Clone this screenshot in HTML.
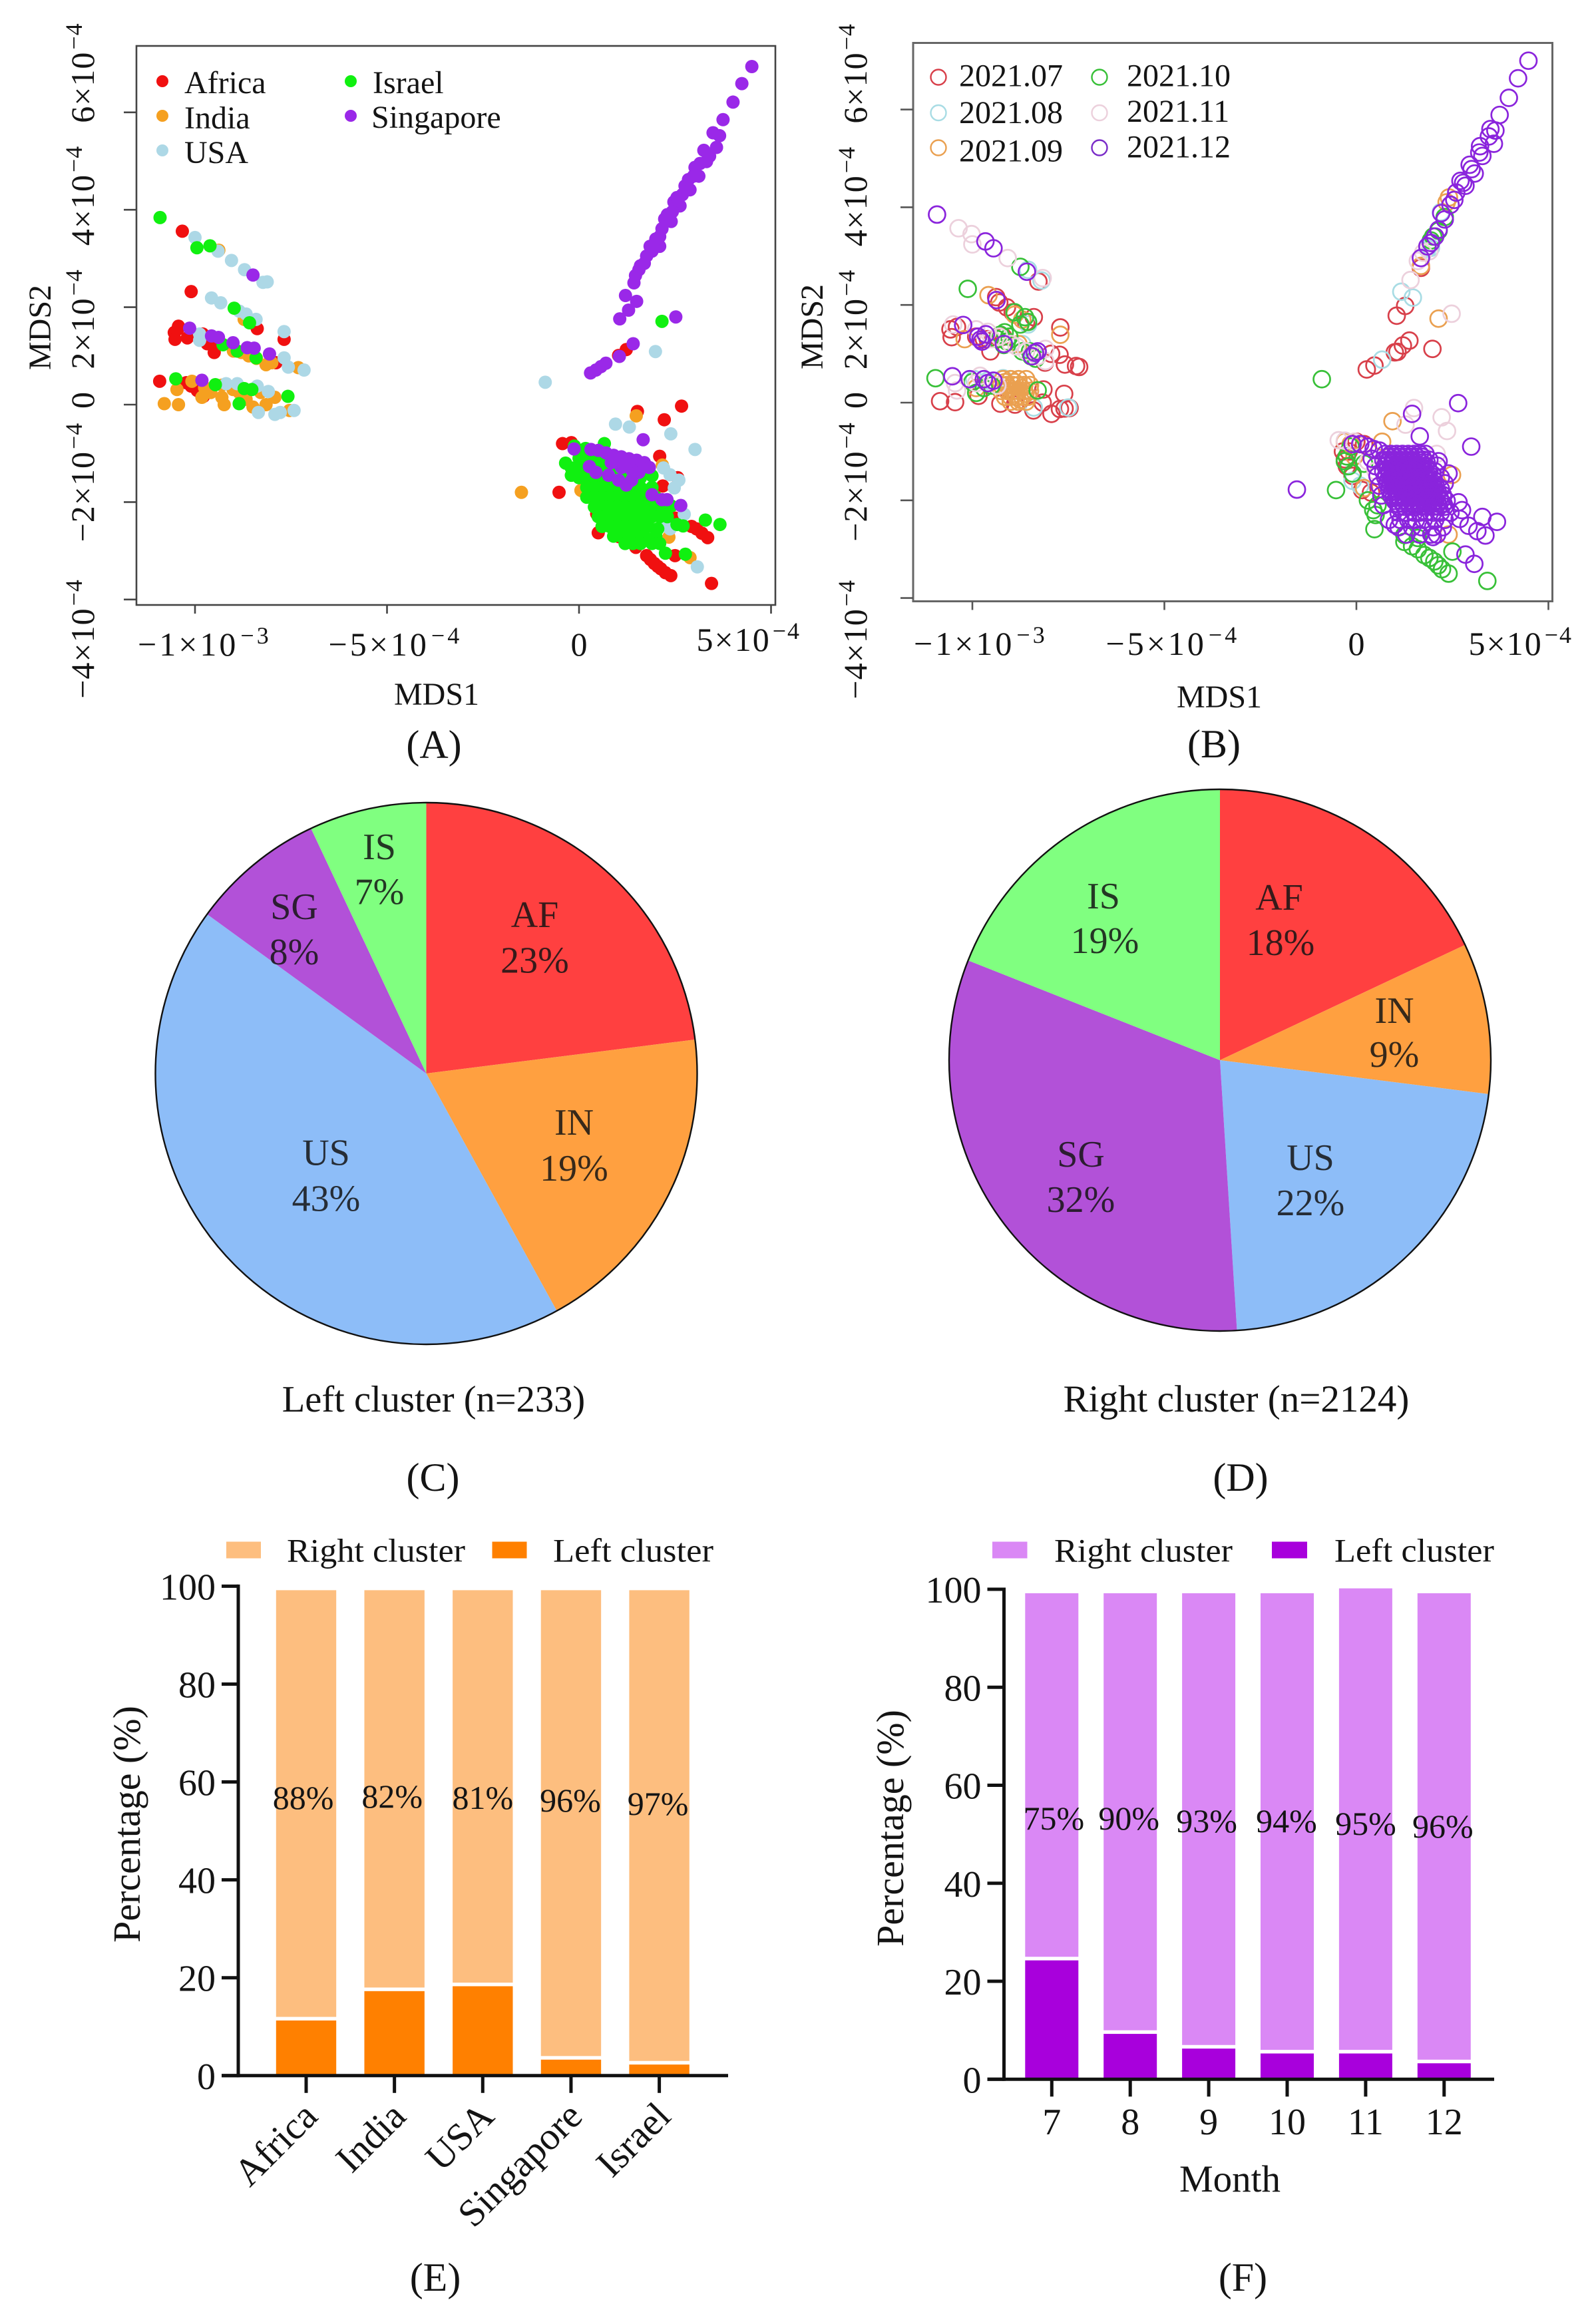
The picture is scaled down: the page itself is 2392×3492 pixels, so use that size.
<!DOCTYPE html>
<html lang="en">
<head>
<meta charset="utf-8">
<title>MDS clusters figure</title>
<style>
html,body{margin:0;padding:0;background:#fff;}
svg{display:block;}
text{font-family:"Liberation Serif",serif;fill:#141414;}
</style>
</head>
<body>
<svg id="figure" xmlns="http://www.w3.org/2000/svg" width="2392" height="3492" viewBox="0 0 2392 3492">
<rect x="0" y="0" width="2392" height="3492" fill="#ffffff"/>

<!-- Panel A static -->
<g id="panelA">
<rect x="205" y="69" width="960" height="840" fill="none" stroke="#444" stroke-width="2.6"/>
<text x="656" y="1059" font-size="48" text-anchor="middle">MDS1</text>
<text transform="translate(76,492) rotate(-90)" font-size="48" text-anchor="middle">MDS2</text>
<text x="652" y="1139" font-size="60" text-anchor="middle">(A)</text>
<circle cx="244" cy="122" r="9" fill="#f01010"/>
<text x="277" y="140" font-size="48">Africa</text>
<circle cx="244" cy="174" r="9" fill="#f5a020"/>
<text x="277" y="193" font-size="48">India</text>
<circle cx="244" cy="226" r="9" fill="#add8e6"/>
<text x="277" y="245" font-size="48">USA</text>
<circle cx="527" cy="122" r="9" fill="#10f010"/>
<text x="560" y="140" font-size="48">Israel</text>
<circle cx="527" cy="174" r="9" fill="#9a28e8"/>
<text x="558" y="192" font-size="48">Singapore</text>
</g>

<!-- Panel B static -->
<g id="panelB">
<rect x="1372" y="64.5" width="960.5" height="839" fill="none" stroke="#666" stroke-width="3"/>
<text x="1832" y="1063" font-size="48" text-anchor="middle">MDS1</text>
<text transform="translate(1236,491) rotate(-90)" font-size="48" text-anchor="middle">MDS2</text>
<text x="1824" y="1138" font-size="60" text-anchor="middle">(B)</text>
<circle cx="1410" cy="116" r="11.5" fill="none" stroke="#d8404a" stroke-width="2.4"/>
<text x="1441" y="129.5" font-size="48">2021.07</text>
<circle cx="1410" cy="169.5" r="11.5" fill="none" stroke="#a8dce4" stroke-width="2.4"/>
<text x="1441" y="185" font-size="48">2021.08</text>
<circle cx="1410" cy="222" r="11.5" fill="none" stroke="#eaa050" stroke-width="2.4"/>
<text x="1441" y="242.5" font-size="48">2021.09</text>
<circle cx="1652" cy="116" r="11.5" fill="none" stroke="#38c038" stroke-width="2.4"/>
<text x="1693" y="129.5" font-size="48">2021.10</text>
<circle cx="1652" cy="169.5" r="11.5" fill="none" stroke="#ecd0dc" stroke-width="2.4"/>
<text x="1693" y="183" font-size="48">2021.11</text>
<circle cx="1652" cy="222" r="11.5" fill="none" stroke="#7a2cc8" stroke-width="2.4"/>
<text x="1693" y="236.5" font-size="48">2021.12</text>
</g>

<!-- Panel C / D static -->
<g id="panelC">
<text x="651.5" y="2121" font-size="56.5" text-anchor="middle">Left cluster (n=233)</text>
<text x="650.5" y="2240" font-size="60" text-anchor="middle">(C)</text>
</g>
<g id="panelD">
<text x="1857.5" y="2121" font-size="57" text-anchor="middle">Right cluster (n=2124)</text>
<text x="1864" y="2240" font-size="60" text-anchor="middle">(D)</text>
</g>

<!-- Panel E static -->
<g id="panelE">
<rect x="340" y="2316.5" width="52" height="25" fill="#fdbe7f"/>
<text x="431" y="2346.5" font-size="50" textLength="268" lengthAdjust="spacingAndGlyphs">Right cluster</text>
<rect x="739.5" y="2316.5" width="52" height="25" fill="#ff8000"/>
<text x="831" y="2346.5" font-size="50" textLength="241" lengthAdjust="spacingAndGlyphs">Left cluster</text>
<text transform="translate(210,2741) rotate(-90)" font-size="58" text-anchor="middle">Percentage (%)</text>
<text x="654" y="3442" font-size="60" text-anchor="middle">(E)</text>
</g>

<!-- Panel F static -->
<g id="panelF">
<rect x="1491" y="2316.5" width="52.5" height="25" fill="#da88f5"/>
<text x="1584" y="2346.5" font-size="50" textLength="268" lengthAdjust="spacingAndGlyphs">Right cluster</text>
<rect x="1911" y="2316.5" width="53" height="25" fill="#a800dc"/>
<text x="2005" y="2346.5" font-size="50" textLength="240" lengthAdjust="spacingAndGlyphs">Left cluster</text>
<text transform="translate(1357,2747) rotate(-90)" font-size="58" text-anchor="middle">Percentage (%)</text>
<text x="1848" y="3293" font-size="57" text-anchor="middle">Month</text>
<text x="1867.5" y="3442" font-size="60" text-anchor="middle">(F)</text>
</g>
</svg>

<script>
// ---------- Chart data (MDS coordinates are in units of 1e-4) ----------
const mdsXTicks = [-10, -5, 0, 5];
const mdsYTicks = [-4, -2, 0, 2, 4, 6];
const mdsXLabels = [['−1×10','−3'],['−5×10','−4'],['0',''],['5×10','−4']];
const mdsYLabels = [['−4×10','−4'],['−2×10','−4'],['0',''],['2×10','−4'],['4×10','−4'],['6×10','−4']];

const africaPoints = [[-10.33,3.56],[-10.1,2.32],[-10.43,1.61],[-10.54,1.48],[-10.52,1.34],[-10.45,1.55],[-10.2,1.37],[-9.68,1.25],[-9.8,1.45],[-9.5,1.07],[-9.55,1.3],[-8.38,1.56],[-7.68,1.34],[-7.89,.86],[-10.92,.48],[-10.23,.45],[-9.94,.29],[-10.1,.38],[-9.78,.17],[-.43,-.8],[-.2,-.78],[-.52,-1.8],[1.52,-.14],[2.67,-.03],[2.22,-.31],[2.1,-1.06],[2.57,-1.5],[2.18,-1.67],[2.51,-2.33],[.46,-2.24],[.5,-2.63],[1.04,-2.71],[1.48,-2.93],[1.76,-3.1],[1.86,-3.18],[1.96,-3.26],[2.05,-3.32],[2.13,-3.37],[2.25,-3.45],[2.39,-3.51],[2.5,-3.1],[3.45,-3.67],[2.93,-2.5],[3.06,-2.55],[3.2,-2.64],[3.35,-2.73],[1.23,1.13],[1.03,1.01]];
const indiaPoints = [[-10.8,.02],[-10.43,0],[-10.47,.31],[-10.08,.48],[-9.82,.15],[-9.59,.25],[-9.75,.35],[-9.3,.15],[-9.24,0],[-9.3,.4],[-9.01,.31],[-8.85,.25],[-8.67,.11],[-8.49,-.05],[-8.29,.25],[-8.15,0],[-7.92,.15],[-7.54,-.12],[-9.38,3.17],[-8.72,1.75],[-8.79,1.07],[-9,1.1],[-8.6,1],[-8.4,.95],[-8.15,.82],[-8,.86],[-7.31,.76],[-1.5,-1.8],[.05,-1.76],[1.49,-.23],[2.17,-1.24],[2.34,-2.72],[2.89,-3.14],[.3,-1]];
const usaPoints = [[-10,3.43],[-9.4,3.15],[-9.05,2.96],[-8.71,2.77],[-8.23,2.51],[-8.12,2.52],[-9.57,2.19],[-9.33,2.09],[-8.85,1.92],[-8.67,1.86],[-8.41,1.75],[-7.68,1.5],[-9.88,1.45],[-9.88,1.32],[-7.68,.96],[-7.57,.77],[-7.16,.71],[-9.19,.43],[-8.9,.43],[-8.38,.38],[-8.09,.27],[-8.35,-.16],[-7.92,-.2],[-7.78,-.16],[-7.42,-.12],[-.88,.46],[1.99,1.09],[.95,-.4],[1.31,-.46],[2.39,-.6],[3.02,-.92],[3.08,-3.33],[2.37,-1.44],[2.48,-1.71],[2.74,-2.25],[2.37,-2.55],[2.2,-1.3],[2.6,-1.55],[2.2,-2.4]];
const israelPoints = [[-10.91,3.84],[-9.95,3.22],[-9.61,3.26],[-8.98,1.98],[-8.58,1.68],[-9.27,1.23],[-8.41,.96],[-8.9,1.1],[-10.5,.53],[-9.47,.41],[-8.85,.02],[-8.72,.33],[-8.52,.31],[-7.58,.17],[2.16,1.71],
[.66,-.8],[-.12,-.85],[.17,-.9],[3.29,-2.37],[3.67,-2.46],[2.77,-3.07],[2.25,-3.05],[2.71,-2.49],[2.55,-2.46],
[-.35,-1.2],[-.2,-1.45],[0,-1.1],[.2,-1.1],[.4,-1.1],[.6,-1.05],[.8,-1.1],[1,-1.15],
[-.2,-1.3],[0,-1.3],[.2,-1.3],[.4,-1.3],[.6,-1.3],[.8,-1.3],[1,-1.3],[1.4,-1.3],[1.7,-1.3],
[0,-1.5],[.2,-1.5],[.4,-1.5],[.6,-1.5],[.8,-1.5],[1,-1.5],[1.2,-1.5],[1.4,-1.5],[1.6,-1.5],[1.9,-1.46],
[.2,-1.7],[.4,-1.7],[.6,-1.7],[.8,-1.7],[1,-1.7],[1.2,-1.7],[1.4,-1.7],[1.6,-1.7],[1.9,-1.7],
[.2,-1.9],[.4,-1.9],[.6,-1.9],[.8,-1.9],[1,-1.9],[1.2,-1.9],[1.4,-1.9],[1.6,-1.9],[1.8,-1.9],[2,-1.9],
[.4,-2.1],[.6,-2.1],[.8,-2.1],[1,-2.1],[1.2,-2.1],[1.4,-2.1],[1.6,-2.1],[1.8,-2.1],[2,-2.1],[2.2,-2.1],[2.4,-2.08],
[.5,-2.3],[.7,-2.3],[.9,-2.3],[1.1,-2.3],[1.3,-2.3],[1.5,-2.3],[1.7,-2.3],[1.9,-2.3],[2.1,-2.3],[2.3,-2.3],
[.6,-2.5],[.8,-2.5],[1,-2.5],[1.2,-2.5],[1.4,-2.5],[1.6,-2.5],[1.8,-2.5],[2.05,-2.55],
[.9,-2.7],[1.1,-2.7],[1.3,-2.7],[1.5,-2.7],[1.7,-2.7],[2,-2.7],
[1.2,-2.85],[1.4,-2.85],[1.6,-2.85],[1.9,-2.85],[2.1,-2.85]];
const singaporePoints = [[4.5,6.94],[4.24,6.59],[4.01,6.21],[3.75,5.85],[3.49,5.58],[3.66,5.52],[3.58,5.28],[3.25,5.22],[3.32,4.99],[3.02,4.87],[3.12,4.69],[2.98,4.69],[2.76,4.49],[2.89,4.41],[2.69,4.31],[2.47,4.16],[2.63,4.08],[2.43,3.96],[2.23,3.81],[2.4,3.76],[2.16,3.61],[2.1,3.45],[1.96,3.3],[2.1,3.25],[1.9,3.15],[1.76,3.05],[1.7,2.9],[1.56,2.77],[1.47,2.65],[1.43,2.5],[1.21,2.24],[1.5,2.12],[1.29,1.94],[1.06,1.76],[2.52,1.8],[1.41,1.25],[1.05,.99],[.7,.85],[.57,.78],[.44,.71],[.3,.65],
[3.4,5.1],[3.15,4.95],[2.85,4.62],[2.55,4.25],[2.3,3.9],[2,3.4],[1.85,3.25],[1.6,2.85],
[-10.14,1.57],[-9.57,1.41],[-9.39,1.38],[-9.01,1.27],[-8.64,1.17],[-8.46,1.16],[-8.06,1.04],[-9.82,.5],[-8.49,2.66],
[-.13,-.91],[.31,-.92],[.5,-.94],[.7,-.99],[.9,-1.04],[1.1,-1.07],[1.3,-1.11],[1.5,-1.14],[1.7,-1.19],[1.83,-1.29],[.84,-1.19],[1.1,-1.29],[1.37,-1.34],[1.56,-1.39],[.27,-1.27],[.44,-1.39],[.77,-1.45],[1.03,-1.55],[1.23,-1.65],[1.37,-1.55],[1.5,-1.4],[1.9,-1.85],[2.16,-1.95],[2.29,-1.95],[2.65,-2.07],[1.67,-.72]];

const month07Points = [[-8.28,2.48],[-10.84,.03],[-10.45,.01],[-7.71,1.54],[-10.57,1.5],[-10.54,1.34],[-9.53,1.05],[-8.4,1.75],[-7.73,.98],[-7.59,.78],[-7.22,.73],[-7.3,.75],[-8.11,.82],[-7.61,.18],[-9.27,-.02],[-8.89,-.04],[-8.41,-.16],[-7.94,-.23],[-7.72,-.13],[-7.47,-.11],[-7.6,-.12],[-8.15,.27],[-8.17,0],[-9.84,.14],[-9.38,2.16],[-9.3,2.05],[-10.4,1.55],[-9.9,1.35],[-9.7,1.3],[-9.6,1.3],[-7.95,1],[.27,.68],[.47,.76],[1,1.03],[1.21,1.17],[1.38,1.27],[1.98,1.1],[1.05,1.78],[1.27,1.98],[1.07,1.04],[1.68,2.76],[-.3,-1.16],[.15,-1.79],[.38,-1.84],[-.25,-1.3],[-.1,-1.5],[0,-.8],[.2,-.85],
[-9.1,1.95],[-8.95,1.85],[-8.6,1.65],[-9.2,1.35],[-.35,-1],[-.2,-1]];
const month08Points = [[-8.55,2.72],[-8.2,2.5],[-8.55,1.6],[-9.95,.48],[-9.6,.45],[-8.7,1.2],[-8.4,1],[-9.2,.5],[-7.5,-.1],[-8.4,-.1],[1.17,2.27],[1.47,2.15],[.67,.88],[1.94,3.17],[-.1,-1.6],[.1,-1.7],[2.2,3.9],[1.85,3.15]];
const month09Points = [[-9.58,2.2],[-7.71,1.39],[-8.9,1.8],[-8.7,1.7],[-10.2,1.3],[-8.8,1.2],[-9.9,.3],
[-9.2,.48],[-9,.48],[-8.8,.48],[-8.6,.48],[-9.25,.36],[-9.1,.36],[-8.95,.36],[-8.8,.36],[-8.65,.36],[-8.5,.36],[-9.25,.24],[-9.1,.24],[-8.95,.24],[-8.8,.24],[-8.65,.24],[-8.5,.24],[-9.15,.12],[-9,.12],[-8.85,.12],[-8.7,.12],[-8.55,.12],[-9,.02],[-8.8,.02],[-8.6,.02],
[-9.15,.42],[-8.9,.42],[-8.72,.3],[-9.05,.3],[-8.9,.18],[-8.62,.18],[-8.75,.06],
[2.14,1.72],[2.41,4.2],[1.68,2.8],[2.35,4.1],[.94,-.38],[.67,-.8],[2.49,-1.48],[-.3,-.8],[.2,-1.75],[2.4,-2.7],[-.15,-.85],[-.05,-1.1]];
const month10Points = [[-8.75,2.78],[-10.12,2.33],[-10.96,.5],[-9.9,.2],[-8.63,1.75],[-8.9,1.85],[-9.27,1.39],[-9.16,1.44],[-9.04,1.35],[-9.18,1.18],[-9.35,1.3],[-8.47,.95],[-8.5,1.05],[-10,.42],[-9.7,.3],[-9.5,.35],[-8.3,.25],[1.94,3.32],[2.14,3.52],[-.9,.48],[3.41,-3.65],[-.53,-1.79],[.47,-2.59],[.44,-2.2],[.55,-2.1],[1.45,-2.94],[1.6,-3],[1.77,-3.12],[1.9,-3.18],[2.03,-3.25],[2.13,-3.33],[2.23,-3.41],[2.4,-3.5],[-.3,-1.2],[-.2,-1.3],[-.1,-1.45],[-.25,-1.1],[1.25,-2.71],[1.6,-2.77],[2.5,-3.05],[.2,-1.25],
[-9.1,1.25],[-8.7,1.05],[-8.35,.9],[-8.75,1.6],[-8.55,1.65],[2,3.4],[2.3,3.8],[-.15,-.9],[.3,-2],[.5,-2.3],[1.25,-2.85]];
const month11Points = [[-10.36,3.57],[-10.02,3.45],[-10,3.24],[-9.08,2.96],[-8.17,2.55],[-10.5,1.6],[-9.9,1.5],[-9.6,1.45],[-8.1,1.1],[-10.45,.4],[-10.4,.25],[-9.8,.55],[2.48,1.82],[1.41,2.51],[1.74,3.07],[1.5,-.11],[2.22,-.3],[2.36,-.58],[2.09,-1.05],[1.28,-.45],[-.46,-.77],[.3,-1.2],[.5,-1.4],
[-9.5,1.3],[-9.3,1.35],[-9,1.2],[-8.85,1.15],[-8.6,1.05],[-8.3,.95],[-8.1,.85],[-9.9,.4],[-9.35,.35],[1.6,2.9],[1.9,3.1],[-.3,-.78],[-.05,-.8]];
const month12Points = [[-10.92,3.85],[-9.66,3.3],[-9.45,3.16],[-8.58,2.68],[-9.37,2.1],[-10.24,1.59],[-9.79,1.29],[-9.18,1.2],[-8.37,1.02],[-10.52,.54],[-10.07,.48],[-9.7,.48],[-9.85,1.35],[-9.75,1.25],[-9.65,1.4],[-8.45,.95],[-8.3,1.05],[-9.6,.4],[-9.45,.45],
[4.48,7],[4.21,6.64],[3.97,6.24],[3.73,5.89],[3.49,5.6],[3.62,5.57],[3.58,5.3],[3.22,5.25],[3.28,5.05],[2.95,4.87],[3.08,4.69],[2.71,4.54],[2.84,4.44],[2.55,4.15],[2.21,3.88],[2.14,3.54],[1.94,3.27],[1.68,2.96],
[3.45,5.45],[3.2,5.12],[3,4.78],[2.78,4.5],[2.6,4.3],[2.45,4.05],[2.3,3.75],[2.05,3.4],[1.85,3.2],
[2.65,-.01],[1.45,-.23],[1.65,-.69],[2.99,-.9],[-1.55,-1.78],[3.28,-2.34],[3.66,-2.44],[2.84,-3.11],[3.07,-3.3],[3.36,-2.72],[3.15,-2.63],[2.92,-2.52],[2.69,-2.38],[2.66,-2.04],[2.75,-2.2],[2.14,-1.2],[2.4,-1.45],[1.99,-2.75],
[-.1,-.85],[.1,-.85],[.3,-.9],[.45,-.95],[.6,-.98],[.4,-1.15],[.5,-1.3],[.55,-1.5],[.6,-1.7],[.65,-1.9],[.7,-2.1],[.85,-2.4],[1,-2.5],
[.75,-1.05],[.9,-1.05],[1.05,-1.05],[1.2,-1.05],[1.35,-1.05],[1.5,-1.05],[1.65,-1.05],[1.8,-1.05],
[.7,-1.17],[.85,-1.17],[1,-1.17],[1.15,-1.17],[1.3,-1.17],[1.45,-1.17],[1.6,-1.17],[1.75,-1.17],[1.9,-1.17],
[.75,-1.29],[.9,-1.29],[1.05,-1.29],[1.2,-1.29],[1.35,-1.29],[1.5,-1.29],[1.65,-1.29],[1.8,-1.29],[2.1,-1.29],
[.7,-1.41],[.85,-1.41],[1,-1.41],[1.15,-1.41],[1.3,-1.41],[1.45,-1.41],[1.6,-1.41],[1.75,-1.41],[1.9,-1.41],[2.05,-1.41],
[.75,-1.53],[.9,-1.53],[1.05,-1.53],[1.2,-1.53],[1.35,-1.53],[1.5,-1.53],[1.65,-1.53],[1.8,-1.53],[2.2,-1.53],
[.8,-1.65],[.95,-1.65],[1.1,-1.65],[1.25,-1.65],[1.4,-1.65],[1.55,-1.65],[1.7,-1.65],[1.85,-1.65],[2,-1.65],[2.3,-1.65],
[.85,-1.77],[1,-1.77],[1.15,-1.77],[1.3,-1.77],[1.45,-1.77],[1.6,-1.77],[1.75,-1.77],[1.9,-1.77],[2.05,-1.77],[2.2,-1.77],
[.9,-1.89],[1.05,-1.89],[1.2,-1.89],[1.35,-1.89],[1.5,-1.89],[1.65,-1.89],[1.8,-1.89],[1.95,-1.89],[2.1,-1.89],[2.25,-1.89],
[1,-2.01],[1.15,-2.01],[1.3,-2.01],[1.45,-2.01],[1.6,-2.01],[1.75,-2.01],[1.9,-2.01],[2.05,-2.01],[2.2,-2.01],[2.35,-2.01],
[1.1,-2.13],[1.25,-2.13],[1.4,-2.13],[1.55,-2.13],[1.7,-2.13],[1.85,-2.13],[2,-2.13],[2.15,-2.13],[2.3,-2.13],
[1.1,-2.25],[1.3,-2.25],[1.5,-2.25],[1.65,-2.25],[1.8,-2.25],[2,-2.25],[2.2,-2.25],[2.45,-2.25],
[1.15,-2.4],[1.35,-2.4],[1.55,-2.4],[1.75,-2.4],[2.05,-2.4],[2.3,-2.4],
[1.1,-2.55],[1.45,-2.55],[1.7,-2.55],[2,-2.55],[2.25,-2.55],
[1.3,-2.7],[1.65,-2.7],[1.95,-2.7],[2.1,-2.7],
[.82,-1.11],[.97,-1.11],[1.12,-1.11],[1.27,-1.11],[1.42,-1.11],[1.57,-1.11],[1.72,-1.11],
[.78,-1.23],[.93,-1.23],[1.08,-1.23],[1.23,-1.23],[1.38,-1.23],[1.53,-1.23],[1.68,-1.23],[1.83,-1.23],
[.82,-1.35],[.97,-1.35],[1.12,-1.35],[1.27,-1.35],[1.42,-1.35],[1.57,-1.35],[1.72,-1.35],[1.87,-1.35],
[.78,-1.47],[.93,-1.47],[1.08,-1.47],[1.23,-1.47],[1.38,-1.47],[1.53,-1.47],[1.68,-1.47],[1.83,-1.47],[1.98,-1.47],
[.82,-1.59],[.97,-1.59],[1.12,-1.59],[1.27,-1.59],[1.42,-1.59],[1.57,-1.59],[1.72,-1.59],[1.87,-1.59],[2.02,-1.59],
[.87,-1.71],[1.02,-1.71],[1.17,-1.71],[1.32,-1.71],[1.47,-1.71],[1.62,-1.71],[1.77,-1.71],[1.92,-1.71],[2.07,-1.71],
[.92,-1.83],[1.07,-1.83],[1.22,-1.83],[1.37,-1.83],[1.52,-1.83],[1.67,-1.83],[1.82,-1.83],[1.97,-1.83],[2.12,-1.83],
[.97,-1.95],[1.12,-1.95],[1.27,-1.95],[1.42,-1.95],[1.57,-1.95],[1.72,-1.95],[1.87,-1.95],[2.02,-1.95],[2.17,-1.95],
[1.07,-2.07],[1.22,-2.07],[1.37,-2.07],[1.52,-2.07],[1.67,-2.07],[1.82,-2.07],[1.97,-2.07],[2.12,-2.07],[2.27,-2.07]];

const pieSliceLabels = ['AF','IN','US','SG','IS'];
const leftClusterShares = [23,19,43,8,7];
const rightClusterShares = [18,9,22,32,19];

const barYTicks = [0,20,40,60,80,100];
const countryCategories = ['Africa','India','USA','Singapore','Israel'];
const countryLeft = [12,18,19,4,3];
const countryRight = [88,82,81,96,97];
const monthCategories = ['7','8','9','10','11','12'];
const monthLeft = [25,10,7,6,6,4];
const monthRight = [75,90,93,94,95,96];

// ---------- Layout and axis functions ----------
const NS = 'http://www.w3.org/2000/svg';
const xA = v => 870 + 57.7 * v;
const yA = v => 608 - 73.2 * v;
const xB = v => 2038 + 57.7 * v;
const yB = v => 605 - 73.4 * v;
const yE = v => 3118.8 - 7.354 * v;
const xE = i => 460 + 132.65 * i;
const yF = v => 3124.3 - 7.363 * v;
const xF = i => 1580.3 + 117.9 * i;

function mk(tag, attrs, parent) {
  const n = document.createElementNS(NS, tag);
  for (const k in attrs) n.setAttribute(k, attrs[k]);
  parent.appendChild(n);
  return n;
}

function sciLabel(parent, tx, ty, rot, parts, size, spacing, anchor, name) {
  const t = mk('text', {transform: 'translate(' + tx + ',' + ty + ') rotate(' + rot + ')', 'font-size': size, 'letter-spacing': spacing, 'text-anchor': anchor}, parent);
  
  
  const base = mk('tspan', {}, t);
  base.textContent = parts[0];
  if (parts[1]) {
    const sup = mk('tspan', {dy: -18, dx: 3, 'font-size': size * 0.72}, t);
    sup.textContent = parts[1];
  }
}

function mdsAxes(g, xf, yf, frameLeft, frameBottom, xOffsets, xBaselines, yOffsets, yBaseX, stroke, key) {
  mdsXTicks.forEach((t, i) => {
    const l = mk('line', {x1: xf(t), x2: xf(t), y1: frameBottom, y2: frameBottom + 13, stroke: stroke, 'stroke-width': 2.6}, g);
    
    
    const centered = !mdsXLabels[i][1];
    const spacing = centered ? 0 : (mdsXLabels[i][0].charAt(0) === '−' ? 4 : 2);
    sciLabel(g, xf(t) + xOffsets[i], xBaselines[i], 0, mdsXLabels[i], 50, spacing, centered ? 'middle' : 'start', 'x-tick-label-' + key);
  });
  mdsYTicks.forEach((t, i) => {
    const l = mk('line', {x1: frameLeft - 19, x2: frameLeft, y1: yf(t), y2: yf(t), stroke: stroke, 'stroke-width': 2.6}, g);
    
    
    sciLabel(g, yBaseX, yf(t) + yOffsets[i], -90, mdsYLabels[i], 50, 1, 'start', 'y-tick-label-' + key);
  });
}

function drawDots(points, color, name) {
  const g = document.getElementById('panelA');
  points.forEach(p => {
    const c = mk('circle', {cx: xA(p[0]), cy: yA(p[1]), r: 10, fill: color}, g);
    
    
  });
}

function drawRings(points, color, name) {
  const g = document.getElementById('panelB');
  points.forEach(p => {
    const c = mk('circle', {cx: xB(p[0]), cy: yB(p[1]), r: 12.5, fill: 'none', stroke: color, 'stroke-width': 2.7}, g);
    
    
  });
}

function drawPie(groupId, cx, cy, r, shares, labelPositions, key) {
  const g = document.getElementById(groupId);
  const colors = ['#ff4040','#ffa040','#8dbdf8','#b251d8','#80ff80'];
  const total = shares.reduce((a, b) => a + b, 0);
  let acc = 0;
  shares.forEach((v, i) => {
    const a0 = acc / total * 2 * Math.PI;
    acc += v;
    const a1 = acc / total * 2 * Math.PI;
    const large = a1 - a0 > Math.PI ? 1 : 0;
    const d = 'M' + cx + ' ' + cy + 'L' + (cx + r * Math.sin(a0)) + ' ' + (cy - r * Math.cos(a0)) + 'A' + r + ' ' + r + ' 0 ' + large + ' 1 ' + (cx + r * Math.sin(a1)) + ' ' + (cy - r * Math.cos(a1)) + 'Z';
    const s = mk('path', {d: d, fill: colors[i]}, g);
    
    
  });
  const ring = mk('circle', {cx: cx, cy: cy, r: r, fill: 'none', stroke: '#111', 'stroke-width': 2.4}, g);
  
  
  shares.forEach((v, i) => {
    const pos = labelPositions[i];
    const a = mk('text', {x: pos[0], y: pos[1], 'font-size': 56, 'text-anchor': 'middle', 'fill-opacity': 0.85}, g);
    
    
    a.textContent = pieSliceLabels[i];
    const b = mk('text', {x: pos[2], y: pos[3], 'font-size': 56, 'text-anchor': 'middle', 'fill-opacity': 0.85}, g);
    
    
    b.textContent = v + '%';
  });
}

function drawBars(cfg) {
  const g = document.getElementById(cfg.group);
  const axisLeft = cfg.axisX;
  cfg.categories.forEach((cat, i) => {
    const left = cfg.left[i], right = cfg.right[i];
    const bx = cfg.x(i) - cfg.width / 2;
    const rTop = cfg.y(left + right) + 6;
    const r = mk('rect', {x: bx, y: rTop, width: cfg.width, height: cfg.y(left) - rTop, fill: cfg.rightColor}, g);
    
    
    const lTop = cfg.y(left) + 5.4;
    const l = mk('rect', {x: bx, y: lTop, width: cfg.width, height: cfg.y(0) - lTop, fill: cfg.leftColor}, g);
    
    
    const tk = mk('line', {x1: cfg.x(i), x2: cfg.x(i), y1: cfg.y(0), y2: cfg.y(0) + 26, stroke: '#111', 'stroke-width': 5}, g);
    
    
    const v = mk('text', {x: cfg.x(i) + cfg.pctDx[i], y: cfg.pctBase[i], 'font-size': 50, 'text-anchor': 'middle', fill: cfg.pctColor}, g);
    
    
    v.textContent = right + '%';
    if (cfg.rotate) {
      const c = mk('text', {transform: 'translate(' + (cfg.x(i) + 20) + ',3183) rotate(-45)', 'font-size': 58, 'text-anchor': 'end'}, g);
      
      
      c.textContent = cat;
    } else {
      const c = mk('text', {x: cfg.x(i), y: 3207, 'font-size': 56, 'text-anchor': 'middle'}, g);
      
      
      c.textContent = cat;
    }
  });
  barYTicks.forEach(t => {
    const tk = mk('line', {x1: axisLeft - 25, x2: axisLeft, y1: cfg.y(t), y2: cfg.y(t), stroke: '#111', 'stroke-width': 5}, g);
    
    
    const lb = mk('text', {x: axisLeft - 34, y: cfg.y(t) + 20, 'font-size': 56, 'text-anchor': 'end'}, g);
    
    
    lb.textContent = t;
  });
  const ya = mk('line', {x1: axisLeft, x2: axisLeft, y1: cfg.y(100) - 2.5, y2: cfg.y(0) + 2.5, stroke: '#111', 'stroke-width': 5}, g);
  
  
  const xa = mk('line', {x1: axisLeft - 25, x2: cfg.axisEnd, y1: cfg.y(0), y2: cfg.y(0), stroke: '#111', 'stroke-width': 5}, g);
  
  
}

// ---------- Draw ----------
drawDots(africaPoints, '#f01010', 'point-africa');
drawDots(indiaPoints, '#f5a020', 'point-india');
drawDots(usaPoints, '#add8e6', 'point-usa');
drawDots(israelPoints, '#10f010', 'point-israel');
drawDots(singaporePoints, '#9a28e8', 'point-singapore');
mdsAxes(document.getElementById('panelA'), xA, yA, 205, 909, [-86,-88,0,-112], [985,985,985,978], [149,60,6,93,54,16], 141, '#444', 'a');

drawRings(month07Points, '#d8404a', 'point-2021-07');
drawRings(month08Points, '#a8dce4', 'point-2021-08');
drawRings(month09Points, '#eaa050', 'point-2021-09');
drawRings(month10Points, '#38c038', 'point-2021-10');
drawRings(month11Points, '#ecd0dc', 'point-2021-11');
drawRings(month12Points, '#8a24dc', 'point-2021-12');
mdsAxes(document.getElementById('panelB'), xB, yB, 1372, 903.5, [-88,-88,0,-120], [984,984,984,984], [152,62,9,97,59,21], 1302, '#555', 'b');

drawPie('panelC', 640.5, 1613, 407, leftClusterShares,
  [[803.5,1393,803.5,1461.5],[862.5,1705,862.5,1774],[490,1750.5,490,1819.5],[442,1381,442,1449],[570,1291,570,1358.5]], 'left');
drawPie('panelD', 1833, 1593, 407, rightClusterShares,
  [[1922,1367,1924,1435],[2095,1537,2095,1603],[1969,1758,1969,1826],[1624,1753,1624,1821],[1658,1365,1660,1432]], 'right');

drawBars({group:'panelE', key:'e', categories:countryCategories, left:countryLeft, right:countryRight, x:xE, y:yE, width:90.4, axisX:358, axisEnd:1094, rightColor:'#fdbe7f', leftColor:'#ff8000', pctColor:'#1c1408', rotate:true,
  pctDx:[-4.4,-3.5,0,-1,-2], pctBase:[2718,2716,2718,2722,2727]});
drawBars({group:'panelF', key:'f', categories:monthCategories, left:monthLeft, right:monthRight, x:xF, y:yF, width:80, axisX:1508.5, axisEnd:2245, rightColor:'#da88f5', leftColor:'#a800dc', pctColor:'#200a38', rotate:false,
  pctDx:[3,-2,-3,-1,0,-2], pctBase:[2749,2749,2753,2753,2757,2761]});
</script>
</body>
</html>
